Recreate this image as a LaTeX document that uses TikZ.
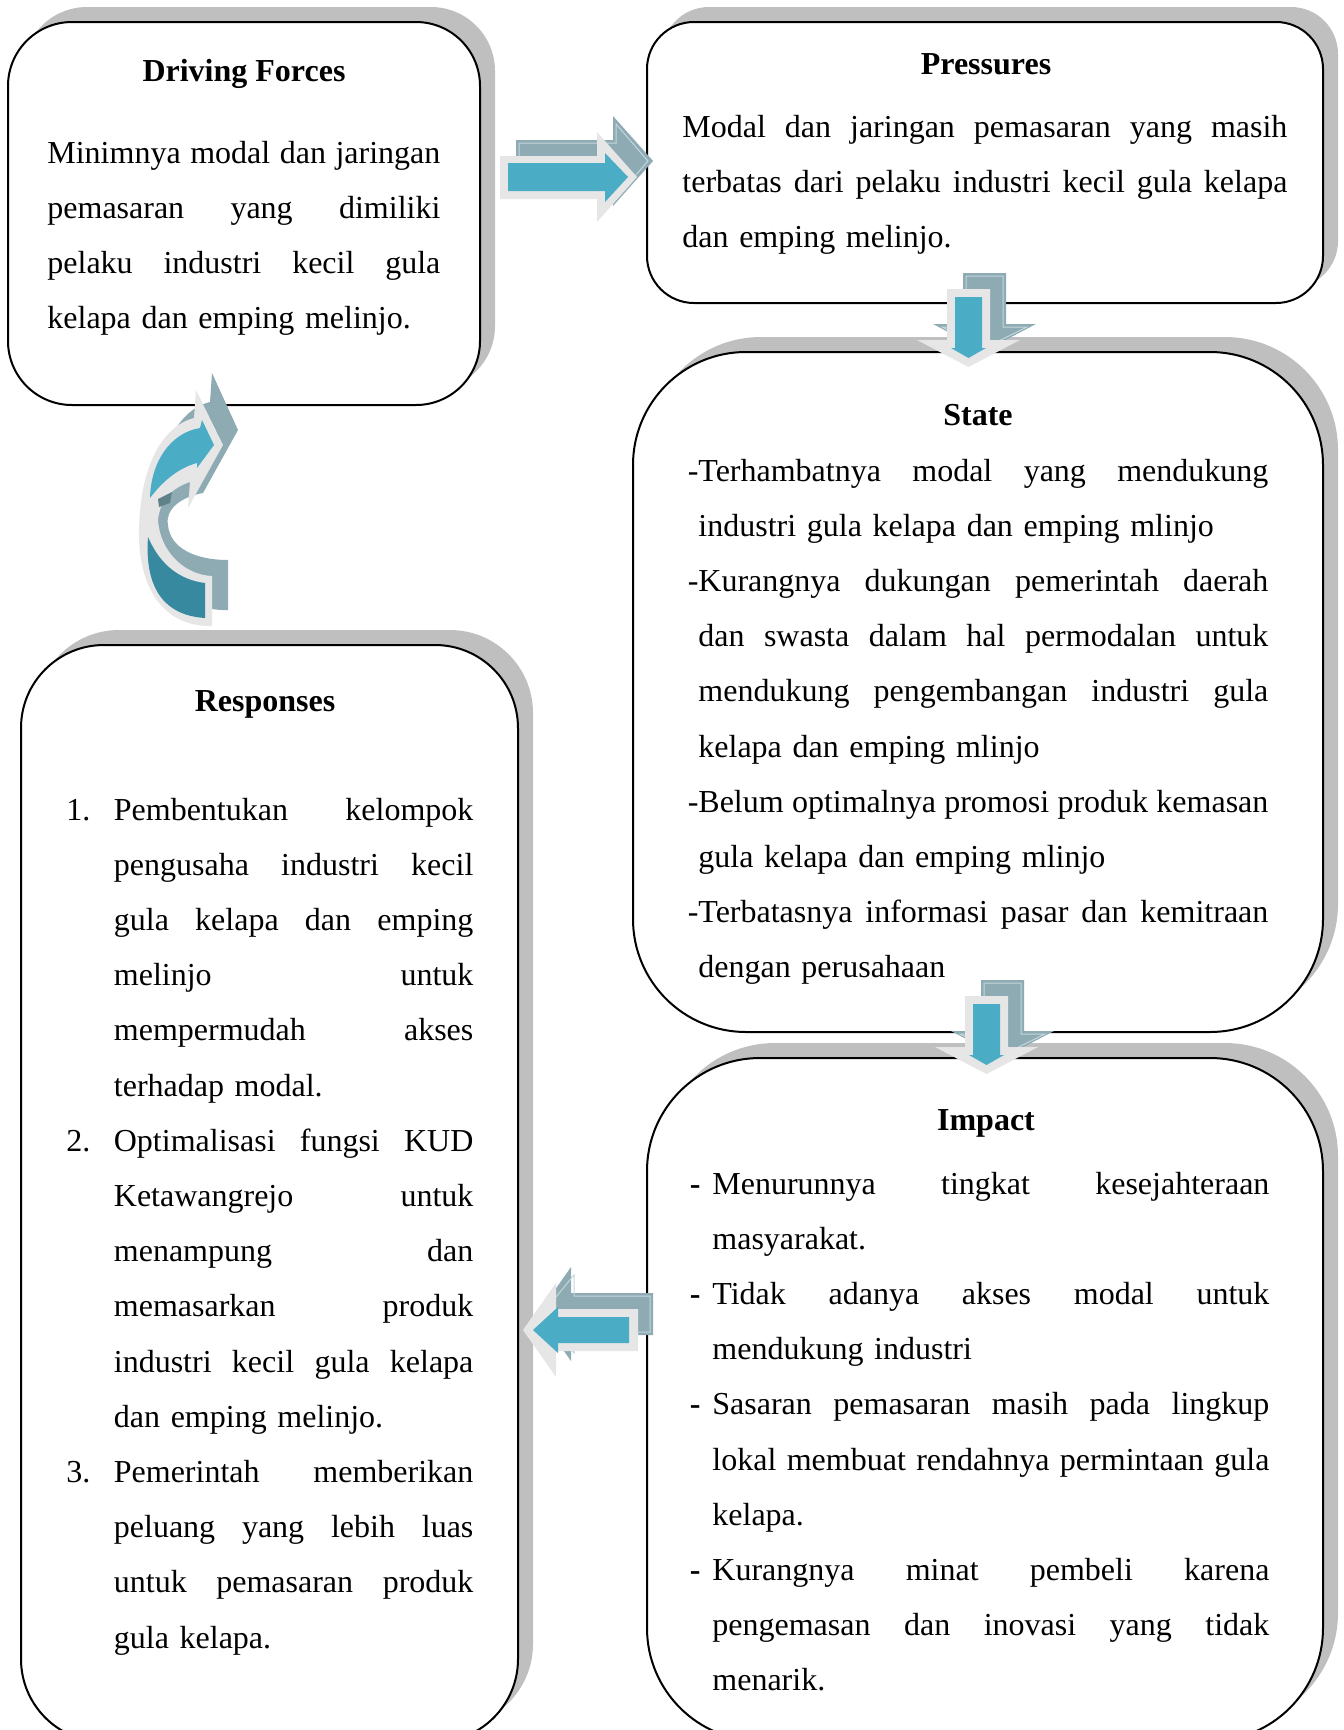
\documentclass[tikz,border=0pt]{standalone}
\usepackage{fontspec}
\setmainfont{Liberation Serif}
\usetikzlibrary{shadows}

\definecolor{shadowgray}{RGB}{191,191,191}
\definecolor{arrowteal}{RGB}{75,172,198}
\definecolor{arrowdark}{RGB}{55,137,160}
\definecolor{arrowrim}{RGB}{230,230,230}
\definecolor{arrowback}{RGB}{142,171,180}
\definecolor{arrowbackdeep}{RGB}{96,128,138}
\definecolor{arrowshine}{RGB}{196,214,220}

% a line stretched to the full text width of its box (all word spaces grow equally)
\newcommand\justline[1]{\leavevmode\hbox to\linew{\spaceskip=0.25em plus 1fil\relax\xspaceskip=\spaceskip#1}}
% hanging markers
\newcommand\imdash{\llap{\textbf{-}\hspace{6pt}}}
\newcommand\renum[1]{\llap{\makebox[23.75pt][l]{#1}}}

% outlines of the block arrows (pixel grid, y downwards)
\newcommand\rightrim{(500,156) -- (597,156) -- (597,132) -- (637,177) -- (597,222) -- (597,199) -- (500,199) -- cycle}
\newcommand\rightface{(508,163) -- (605,163) -- (605,153) -- (628,177) -- (605,202) -- (605,191) -- (508,191) -- cycle}
\newcommand\rightshine{(519,143) -- (616,143) -- (616,124) -- (648,161) -- (616,198) -- (616,180) -- (519,180) -- cycle}

\newcommand\downrim{(947,289) -- (990,289) -- (990,340) -- (1020,340) -- (968.5,367) -- (917,340) -- (947,340) -- cycle}
\newcommand\downface{(955,297) -- (982,297) -- (982,348) -- (986,348) -- (968.5,358) -- (951,348) -- (955,348) -- cycle}
\newcommand\downshine{(966,276) -- (1003,276) -- (1003,327) -- (1027,327) -- (984.5,348) -- (942,327) -- (966,327) -- cycle}

\newcommand\leftrim{(638,1309) -- (556,1309) -- (556,1283) -- (523,1330) -- (556,1377) -- (556,1351) -- (638,1351) -- cycle}
\newcommand\leftface{(629,1317) -- (558,1317) -- (558,1307) -- (533,1330) -- (558,1353) -- (558,1343) -- (629,1343) -- cycle}
\newcommand\leftshine{(650,1296) -- (574,1296) -- (574,1275) -- (542,1314) -- (574,1353) -- (574,1332) -- (650,1332) -- cycle}

% curved arrow: back body, light rim, upper face, lower (underside) face
\newcommand\curveback{(228,610) .. controls (180,612) and (154,570) .. (155,514) .. controls (156,455) and (176,410) .. (210,402) -- (212,373) -- (238,430) -- (203,493) .. controls (180,497) and (165,510) .. (168,525) .. controls (170,548) and (195,560) .. (228,560) -- cycle}
\newcommand\curverim{(212,626) .. controls (165,627) and (138,590) .. (139,530) .. controls (140,470) and (160,427) .. (194,418) -- (196,390) -- (223,445) -- (188,508) -- (190,482) .. controls (172,488) and (160,500) .. (158,520) .. controls (160,552) and (185,575) .. (212,576) -- cycle}
\newcommand\curveupface{(150,498) .. controls (151,462) and (170,433) .. (200,428) -- (202,420) -- (214,445) -- (197,468) -- (197,463) .. controls (178,468) and (162,482) .. (150,498) -- cycle}
\newcommand\curvelowface{(148,537) .. controls (145,580) and (158,615) .. (205,618) -- (205,583) .. controls (180,580) and (160,565) .. (148,537) -- cycle}

\tikzset{
  panel/.style={draw=black, line width=1pt, fill=white, inner sep=0pt,
    drop shadow={shadow xshift=7.5pt, shadow yshift=7.5pt, opacity=1, fill=shadowgray}},
  heading/.style={font=\fontsize{16}{27.6}\selectfont\bfseries, inner sep=0pt, anchor=base},
  bodytext/.style={font=\fontsize{16}{27.6}\selectfont, inner sep=0pt, anchor=base west,
    text width=#1, execute at begin node={\def\linew{#1}}},
  backarrow/.style={fill=arrowback, draw=none},
  shine/.style={draw=arrowshine, line width=0.5pt},
  rimarrow/.style={fill=arrowrim, draw=none},
  facearrow/.style={fill=arrowteal, draw=none},
  darkface/.style={fill=arrowdark, draw=none},
}

\begin{document}
\begin{tikzpicture}[x=0.5pt, y=-0.5pt]
\useasboundingbox (0,0) rectangle (1344,1730);
\clip (0,0) rectangle (1344,1730);

% panels
\node[panel, rounded corners=32pt, minimum width=236pt, minimum height=191.5pt] (driving) at (244,213.5) {};
\node[panel, rounded corners=23.5pt, minimum width=338pt, minimum height=140.5pt] (pressures) at (985,162.5) {};
\node[panel, rounded corners=56.5pt, minimum width=345pt, minimum height=340pt] (state) at (978,692) {};
\node[panel, rounded corners=56.5pt, minimum width=338pt, minimum height=341.5pt] (impact) at (985,1399.5) {};
\node[panel, rounded corners=41.5pt, minimum width=248.5pt, minimum height=548.5pt] (responses) at (269.5,1193.5) {};

% Driving Forces
\node[heading] (drivingtitle) at (244,81) {Driving Forces};
\node[bodytext=196.5pt] (drivingbody) at (47,163) {%
\justline{Minimnya modal dan jaringan}\\
\justline{pemasaran yang dimiliki}\\
\justline{pelaku industri kecil gula}\\
kelapa dan emping melinjo.};

% Pressures
\node[heading] (pressurestitle) at (986,74) {Pressures};
\node[bodytext=302.5pt] (pressuresbody) at (682,137) {%
\justline{Modal dan jaringan pemasaran yang masih}\\
\justline{terbatas dari pelaku industri kecil gula kelapa}\\
dan emping melinjo.};

% State
\node[heading] (statetitle) at (978,425) {State};
\node[bodytext=285pt] (statebody) at (698,481) {%
\justline{\llap{-}Terhambatnya modal yang mendukung}\\
industri gula kelapa dan emping mlinjo\\
\justline{\llap{-}Kurangnya dukungan pemerintah daerah}\\
\justline{dan swasta dalam hal permodalan untuk}\\
\justline{mendukung pengembangan industri gula}\\
kelapa dan emping mlinjo\\
\justline{\llap{-}Belum optimalnya promosi produk kemasan}\\
gula kelapa dan emping mlinjo\\
\justline{\llap{-}Terbatasnya informasi pasar dan kemitraan}\\
dengan perusahaan};

% Impact
\node[heading] (impacttitle) at (986,1130) {Impact};
\node[bodytext=278.5pt] (impactbody) at (712,1194) {%
\justline{\imdash Menurunnya tingkat kesejahteraan}\\
masyarakat.\\
\justline{\imdash Tidak adanya akses modal untuk}\\
mendukung industri\\
\justline{\imdash Sasaran pemasaran masih pada lingkup}\\
\justline{lokal membuat rendahnya permintaan gula}\\
kelapa.\\
\justline{\imdash Kurangnya minat pembeli karena}\\
\justline{pengemasan dan inovasi yang tidak}\\
menarik.};

% Responses
\node[heading] (responsestitle) at (265,711) {Responses};
\node[bodytext=179.75pt] (responsesbody) at (113.5,820) {%
\justline{\renum{1.}Pembentukan kelompok}\\
\justline{pengusaha industri kecil}\\
\justline{gula kelapa dan emping}\\
\justline{melinjo untuk}\\
\justline{mempermudah akses}\\
terhadap modal.\\
\justline{\renum{2.}Optimalisasi fungsi KUD}\\
\justline{Ketawangrejo untuk}\\
\justline{menampung dan}\\
\justline{memasarkan produk}\\
\justline{industri kecil gula kelapa}\\
dan emping melinjo.\\
\justline{\renum{3.}Pemerintah memberikan}\\
\justline{peluang yang lebih luas}\\
\justline{untuk pemasaran produk}\\
gula kelapa.};

% block arrow: Driving Forces -> Pressures
\fill[backarrow, shift={(16,-16)}] \rightrim;
\draw[shine] \rightshine;
\fill[rimarrow] \rightrim;
\fill[facearrow] \rightface;

% block arrow: Pressures -> State
\fill[backarrow, shift={(16,-16)}] \downrim;
\draw[shine] \downshine;
\fill[rimarrow] \downrim;
\fill[facearrow] \downface;

% block arrow: State -> Impact
\begin{scope}[shift={(18,707)}]
\fill[backarrow, shift={(16,-16)}] \downrim;
\draw[shine] \downshine;
\fill[rimarrow] \downrim;
\fill[facearrow] \downface;
\end{scope}

% block arrow: Impact -> Responses
\fill[backarrow, shift={(15,-16)}] \leftrim;
\draw[shine] \leftshine;
\fill[rimarrow] \leftrim;
\fill[facearrow] \leftface;

% curved arrow: Responses -> Driving Forces
\fill[backarrow] \curveback;
\fill[rimarrow] \curverim;
\fill[arrowbackdeep] (158,499) -- (172,492) -- (170,503) -- (159,507) -- cycle;
\fill[darkface] \curvelowface;
\fill[facearrow] \curveupface;
\end{tikzpicture}
\end{document}
